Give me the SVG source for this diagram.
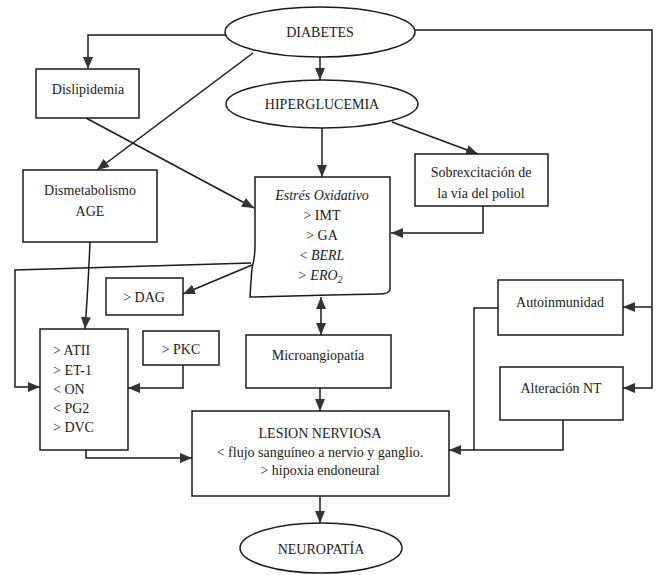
<svg xmlns="http://www.w3.org/2000/svg" width="662" height="575" viewBox="0 0 662 575">
<style>
.n{fill:#fff;stroke:#1a1a1a;stroke-width:1.5}
.c{fill:none;stroke:#1a1a1a;stroke-width:1.5}
text{font-family:"Liberation Serif","Times New Roman",serif;font-size:14px;fill:#1a1a1a;text-anchor:middle;dominant-baseline:central}
.l{text-anchor:start}
.i{font-style:italic}
</style>
<defs>
<marker id="a" markerUnits="userSpaceOnUse" markerWidth="12" markerHeight="10" refX="12" refY="5" orient="auto-start-reverse">
<path d="M0,0 L12,5 L0,10 z" fill="#333"/>
</marker>
</defs>
<rect width="662" height="575" fill="#fff"/>
<g id="connectors">
<path class="c" d="M226,35 H88 V69" marker-end="url(#a)"/>
<path class="c" d="M253,53 L97,170" marker-end="url(#a)"/>
<path class="c" d="M86,118 L254,208" marker-end="url(#a)"/>
<path class="c" d="M320,57 V80" marker-end="url(#a)"/>
<path class="c" d="M322,128 V177" marker-end="url(#a)"/>
<path class="c" d="M392,122 L478,154" marker-end="url(#a)"/>
<path class="c" d="M483,206 V233 H391" marker-end="url(#a)"/>
<path class="c" d="M251,263 L15,270 V387 H40" marker-end="url(#a)"/>
<path class="c" d="M252,265 L183,294" marker-end="url(#a)"/>
<path class="c" d="M90,242 Q88,290 85,329" marker-end="url(#a)"/>
<path class="c" d="M183,365 V388 H128" marker-end="url(#a)"/>
<path class="c" d="M86,450 V458 H192" marker-end="url(#a)"/>
<path class="c" d="M321,297 V335" marker-start="url(#a)" marker-end="url(#a)"/>
<path class="c" d="M320,388 V411" marker-end="url(#a)"/>
<path class="c" d="M320,497 V523" marker-end="url(#a)"/>
<path class="c" d="M415,30 H652 V388 H623" marker-end="url(#a)"/>
<path class="c" d="M652,307 H623" marker-end="url(#a)"/>
<path class="c" d="M498,308 H474 V450"/>
<path class="c" d="M563,420 V450 H449" marker-end="url(#a)"/>
</g>
<g id="diabetes"><ellipse class="n" cx="320" cy="32" rx="95" ry="25"/><text x="320" y="32">DIABETES</text></g>
<g id="hiperglucemia"><ellipse class="n" cx="322" cy="104" rx="96" ry="24"/><text x="322" y="104">HIPERGLUCEMIA</text></g>
<g id="dislipidemia"><rect class="n" x="36" y="69" width="103" height="49"/><text x="88" y="89">Dislipidemia</text></g>
<g id="dismetabolismo"><rect class="n" x="23" y="170" width="134" height="72"/><text x="90" y="190">Dismetabolismo</text><text x="90" y="211">AGE</text></g>
<g id="sobrexcitacion"><rect class="n" x="415" y="154" width="133" height="52"/><text x="481" y="172">Sobrexcitación de</text><text x="481" y="193">la vía del poliol</text></g>
<g id="estres"><path class="n" d="M255,177 H390 V290 Q388,294 380,294 L330,295 L250,297 Q251,280 252,268 Q255,258 255,245 Z"/>
<text x="322" y="195" class="i">Estrés Oxidativo</text>
<text x="322" y="215">&gt; IMT</text>
<text x="322" y="235">&gt; GA</text>
<text x="322" y="255">&lt; <tspan class="i">BERL</tspan></text>
<text x="320" y="275" class="i">&gt; ERO<tspan font-size="10" dy="4">2</tspan></text></g>
<g id="dag"><rect class="n" x="106" y="278" width="77" height="37"/><text x="144" y="297">&gt; DAG</text></g>
<g id="atii"><rect class="n" x="40" y="329" width="88" height="121"/>
<text class="l" x="53" y="350">&gt; ATII</text>
<text class="l" x="53" y="370">&gt; ET-1</text>
<text class="l" x="53" y="389">&lt; ON</text>
<text class="l" x="53" y="408">&lt; PG2</text>
<text class="l" x="53" y="427">&gt; DVC</text></g>
<g id="pkc"><rect class="n" x="143" y="331" width="76" height="34"/><text x="181" y="349">&gt; PKC</text></g>
<g id="microangiopatia"><rect class="n" x="246" y="335" width="145" height="53"/><text x="318" y="355">Microangiopatía</text></g>
<g id="autoinmunidad"><rect class="n" x="498" y="280" width="125" height="55"/><text x="560" y="302">Autoinmunidad</text></g>
<g id="alteracion"><rect class="n" x="500" y="367" width="123" height="53"/><text x="561" y="388">Alteración NT</text></g>
<g id="lesion"><rect class="n" x="192" y="411" width="257" height="85"/>
<text x="320" y="433">LESION NERVIOSA</text>
<text x="320" y="452">&lt; flujo sanguíneo a nervio y ganglio.</text>
<text x="320" y="470">&gt; hipoxia endoneural</text></g>
<g id="neuropatia"><ellipse class="n" cx="321" cy="548" rx="81" ry="25"/><text x="321" y="549">NEUROPATÍA</text></g>
</svg>
